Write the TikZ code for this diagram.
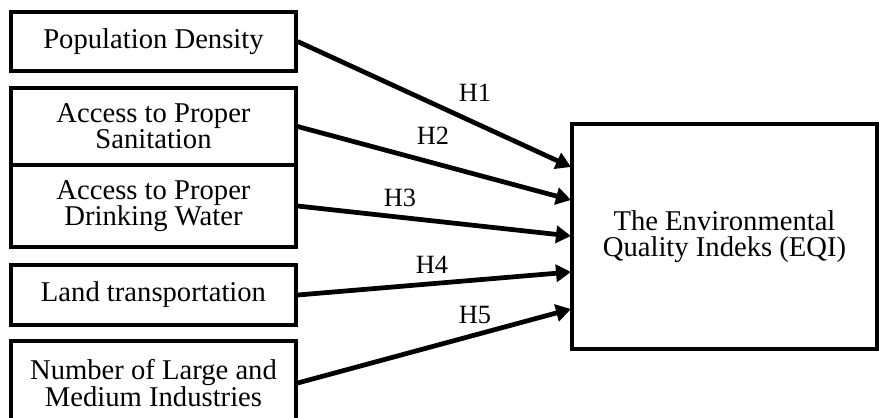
\documentclass[tikz,border=0pt]{standalone}
\usepackage{fontspec}
\setmainfont{Liberation Serif}
\usetikzlibrary{arrows.meta}

\begin{document}
\begin{tikzpicture}[x=0.02cm, y=-0.02cm,
    box/.style={draw, line width=1.9pt, rectangle, align=center, minimum width=5.7cm,
      inner sep=0pt, font=\fontsize{16.3}{14.8}\selectfont},
    hyp/.style={line width=2.7pt, -{Triangle[length=0.3cm, width=0.34cm]}},
    hlabel/.style={inner sep=0pt, font=\fontsize{15}{15}\selectfont}]
    \useasboundingbox (0,0) rectangle (879,417);
    \node[box, minimum height=1.18cm] (pop) at (153.5,41.5) {Population Density};
    \node[box, minimum height=1.54cm] (san) at (153.5,126.5) {Access to Proper\\Sanitation};
    \node[box, minimum height=1.64cm] (water) at (153.5,206) {Access to Proper\\Drinking Water};
    \node[box, minimum height=1.2cm] (land) at (153.5,295) {Land transportation};
    \node[box, minimum height=1.68cm] (ind) at (153.5,383) {Number of Large and\\Medium Industries};
    \node[box, minimum width=6.1cm, minimum height=4.5cm] (eqi) at (724.5,236.5) {The Environmental\\Quality Indeks (EQI)};
    \coordinate (in1) at (571,167);
    \coordinate (in2) at (571,200);
    \coordinate (in3) at (571,236);
    \coordinate (in4) at (571,272);
    \coordinate (in5) at (571,309);
    \draw[hyp] (pop.east) -- (in1);
    \draw[hyp] (san.east) -- (in2);
    \draw[hyp] (water.east) -- (in3);
    \draw[hyp] (land.east) -- (in4);
    \draw[hyp] (ind.east) -- (in5);
    \node[hlabel] (h1) at (475,93) {H1};
    \node[hlabel] (h2) at (433,136) {H2};
    \node[hlabel] (h3) at (400,198) {H3};
    \node[hlabel] (h4) at (432,265) {H4};
    \node[hlabel] (h5) at (475,315) {H5};
  \end{tikzpicture}
\end{document}
